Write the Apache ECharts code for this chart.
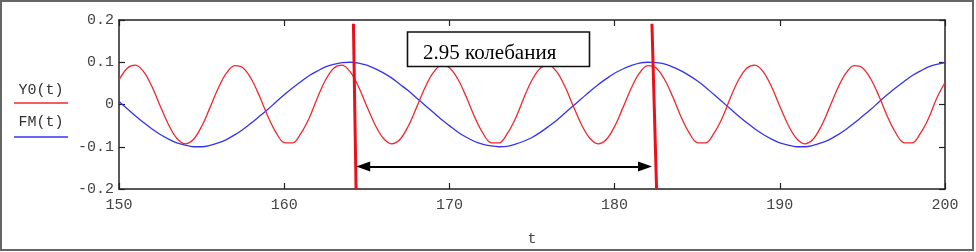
<!DOCTYPE html>
<html>
<head>
<meta charset="utf-8">
<script src="https://cdn.jsdelivr.net/npm/echarts@6/dist/echarts.min.js"></script>
<style>
html,body{margin:0;padding:0;background:#fff;}
#chart{width:976px;height:252px;}
</style>
</head>
<body>
<div id="chart"></div>
<script>
// t values (x axis)
var tValues = [150,150.5,151,151.5,152,152.5,153,153.5,154,154.5,155,155.5,156,156.5,157,157.5,158,158.5,159,159.5,
160,160.5,161,161.5,162,162.5,163,163.5,164,164.5,165,165.5,166,166.5,167,167.5,168,168.5,169,169.5,
170,170.5,171,171.5,172,172.5,173,173.5,174,174.5,175,175.5,176,176.5,177,177.5,178,178.5,179,179.5,
180,180.5,181,181.5,182,182.5,183,183.5,184,184.5,185,185.5,186,186.5,187,187.5,188,188.5,189,189.5,
190,190.5,191,191.5,192,192.5,193,193.5,194,194.5,195,195.5,196,196.5,197,197.5,198,198.5,199,199.5,200];

// Y0(t) red curve
var y0Values = [0.058,0.086,0.093,0.077,0.042,-0.004,-0.048,-0.080,-0.093,-0.083,-0.052,-0.008,0.038,0.074,0.092,0.087,0.061,0.020,-0.027,-0.066,-0.090,-0.091,-0.069,-0.033,0.015,
0.058,0.086,0.093,0.077,0.042,-0.004,-0.048,-0.080,-0.093,-0.083,-0.052,-0.008,0.038,0.074,0.092,0.087,0.061,0.020,-0.027,-0.066,-0.090,-0.091,-0.069,-0.033,0.015,
0.058,0.086,0.093,0.077,0.042,-0.004,-0.048,-0.080,-0.093,-0.083,-0.052,-0.008,0.038,0.074,0.092,0.087,0.061,0.020,-0.027,-0.066,-0.090,-0.091,-0.069,-0.033,0.015,
0.058,0.086,0.093,0.077,0.042,-0.004,-0.048,-0.080,-0.093,-0.083,-0.052,-0.008,0.038,0.074,0.092,0.087,0.061,0.020,-0.027,-0.066,-0.090,-0.091,-0.069,-0.033,0.015,
0.052];

// FM(t) blue curve
var fmValues = [0.007,-0.010,-0.027,-0.043,-0.058,-0.071,-0.082,-0.091,-0.096,-0.100,
-0.100,-0.097,-0.091,-0.083,-0.072,-0.059,-0.044,-0.028,-0.012,0.006,
0.023,0.039,0.054,0.068,0.079,0.089,0.095,0.099,0.100,0.098,
0.093,0.085,0.075,0.063,0.048,0.033,0.016,-0.001,-0.018,-0.035,
-0.050,-0.065,-0.077,-0.087,-0.094,-0.098,-0.100,-0.099,-0.094,-0.087,
-0.078,-0.066,-0.052,-0.037,-0.020,-0.003,0.014,0.031,0.047,0.061,
0.074,0.084,0.092,0.098,0.100,0.099,0.096,0.089,0.080,0.069,
0.056,0.041,0.024,0.007,-0.010,-0.027,-0.043,-0.058,-0.071,-0.082,
-0.091,-0.096,-0.100,-0.100,-0.097,-0.091,-0.083,-0.072,-0.059,-0.044,
-0.028,-0.012,0.006,0.023,0.039,0.054,0.068,0.079,0.089,0.095,0.099];

var seriesNames = ['Y0(t)', 'FM(t)'];
var xAxisName = 't';
var xTicks = {min: 150, max: 200, interval: 10};
var yTicks = {min: -0.2, max: 0.2, interval: 0.1};

// annotation: two vertical markers, and the period arrow
var marker1 = [[164.19, 0.191], [164.35, -0.2]];
var marker2 = [[182.26, 0.191], [182.54, -0.2]];
var arrowSpan = [[164.78, -0.1467], [181.84, -0.1467]];
var boxText = '2.95 колебания';

function pairs(xs, ys) { return xs.map(function (x, i) { return [x, ys[i]]; }); }

var monoFont = 'Liberation Mono';
var axisColor = '#222';
var labelColor = '#444';

var chart = echarts.init(document.getElementById('chart'), null, {renderer: 'canvas'});
chart.setOption({
  animation: false,
  backgroundColor: '#fff',
  grid: {left: 119, right: 31, top: 20, bottom: 57, show: false},
  xAxis: [{
    type: 'value', min: xTicks.min, max: xTicks.max, interval: xTicks.interval,
    position: 'bottom',
    name: xAxisName, nameLocation: 'middle', nameGap: 43,
    nameTextStyle: {fontFamily: monoFont, fontSize: 15, color: labelColor},
    axisLine: {show: true, onZero: false, lineStyle: {color: axisColor, width: 1.5}},
    axisTick: {show: true, inside: true, length: 6, lineStyle: {color: axisColor, width: 1.2}},
    axisLabel: {fontFamily: monoFont, fontSize: 15, color: labelColor, margin: 9},
    splitLine: {show: false}
  }, {
    type: 'value', min: xTicks.min, max: xTicks.max, interval: xTicks.interval,
    position: 'top',
    axisLine: {show: true, onZero: false, lineStyle: {color: axisColor, width: 1.5}},
    axisTick: {show: true, inside: true, length: 6, lineStyle: {color: axisColor, width: 1.2}},
    axisLabel: {show: false},
    splitLine: {show: false}
  }],
  yAxis: [{
    type: 'value', min: yTicks.min, max: yTicks.max, interval: yTicks.interval,
    position: 'left',
    axisLine: {show: true, onZero: false, lineStyle: {color: axisColor, width: 1.5}},
    axisTick: {show: true, inside: true, length: 6, lineStyle: {color: axisColor, width: 1.2}},
    axisLabel: {
      fontFamily: monoFont, fontSize: 15, color: labelColor, margin: 5,
      formatter: function (v) { return Math.abs(v) < 1e-9 ? '0' : v.toFixed(1); }
    },
    splitLine: {show: false}
  }, {
    type: 'value', min: yTicks.min, max: yTicks.max, interval: yTicks.interval,
    position: 'right',
    axisLine: {show: true, onZero: false, lineStyle: {color: axisColor, width: 1.5}},
    axisTick: {show: true, inside: true, length: 6, lineStyle: {color: axisColor, width: 1.2}},
    axisLabel: {show: false},
    splitLine: {show: false}
  }],
  series: [{
    name: seriesNames[0], type: 'line', xAxisIndex: 0, yAxisIndex: 0,
    data: pairs(tValues, y0Values), smooth: 0.35, showSymbol: false,
    lineStyle: {color: '#f0282d', width: 1.3}, z: 3,
    markLine: {
      silent: true, symbol: 'none', animation: false,
      label: {show: false},
      data: [
        [{coord: marker1[0], lineStyle: {color: '#e8101a', width: 3, type: 'solid'}}, {coord: marker1[1]}],
        [{coord: marker2[0], lineStyle: {color: '#e8101a', width: 3, type: 'solid'}}, {coord: marker2[1]}],
        [{coord: arrowSpan[0], symbol: 'triangle', symbolSize: [10, 14], lineStyle: {color: '#000', width: 2, type: 'solid'}},
         {coord: arrowSpan[1], symbol: 'triangle', symbolSize: [10, 14]}]
      ]
    }
  }, {
    name: seriesNames[1], type: 'line', xAxisIndex: 0, yAxisIndex: 0,
    data: pairs(tValues, fmValues), smooth: 0.35, showSymbol: false,
    lineStyle: {color: '#3434ee', width: 1.3}, z: 2
  }],
  graphic: [
    {type: 'rect', shape: {x: 1, y: 1, width: 972, height: 249},
     style: {fill: null, stroke: '#666', lineWidth: 2}, z: 100, silent: true},
    {type: 'rect', shape: {x: 407.5, y: 32, width: 182, height: 34.5},
     style: {fill: '#fff', stroke: '#111', lineWidth: 1.6}, z: 100, silent: true},
    {type: 'text', x: 423, y: 53.5,
     style: {text: boxText, fontFamily: 'Liberation Serif', fontSize: 21, fill: '#000', textVerticalAlign: 'middle', verticalAlign: 'middle'},
     z: 101, silent: true},
    {type: 'text', x: 41, y: 90,
     style: {text: seriesNames[0], fontFamily: monoFont, fontSize: 15, fill: '#333', align: 'center', verticalAlign: 'middle', textAlign: 'center', textVerticalAlign: 'middle'},
     z: 100, silent: true},
    {type: 'line', shape: {x1: 14, y1: 103, x2: 68, y2: 103},
     style: {stroke: '#f0282d', lineWidth: 1.5}, z: 100, silent: true},
    {type: 'text', x: 41, y: 122,
     style: {text: seriesNames[1], fontFamily: monoFont, fontSize: 15, fill: '#333', align: 'center', verticalAlign: 'middle', textAlign: 'center', textVerticalAlign: 'middle'},
     z: 100, silent: true},
    {type: 'line', shape: {x1: 14, y1: 137, x2: 68, y2: 137},
     style: {stroke: '#3434ee', lineWidth: 1.5}, z: 100, silent: true}
  ]
});
</script>
</body>
</html>
